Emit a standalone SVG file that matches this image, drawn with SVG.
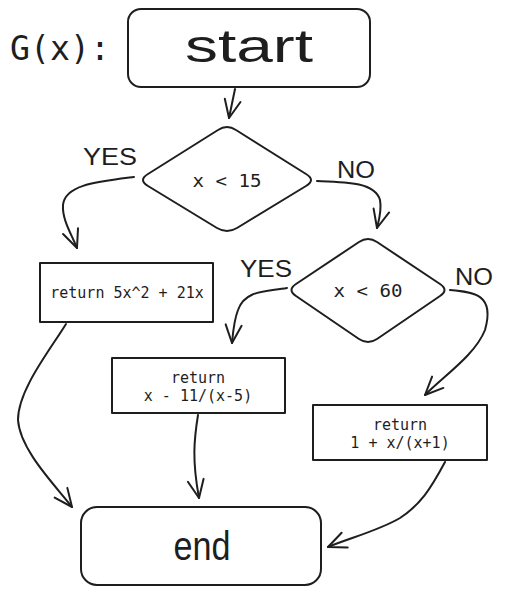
<svg xmlns="http://www.w3.org/2000/svg" width="509" height="594" viewBox="0 0 509 594">
<style>
.shape{fill:#ffffff;stroke:#1e1e1e;stroke-width:2;stroke-linejoin:round}
.conn{fill:none;stroke:#1e1e1e;stroke-width:2;stroke-linecap:round}
.mono{font-family:"DejaVu Sans Mono","Liberation Mono",monospace;fill:#1e1e1e;text-anchor:middle}
.hand{font-family:"Liberation Sans","DejaVu Sans",sans-serif;fill:#1e1e1e}
</style>
<defs>
<marker id="arr" markerUnits="userSpaceOnUse" markerWidth="30" markerHeight="30" refX="0" refY="0" viewBox="-20 -15 30 30" orient="auto" overflow="visible">
<path d="M -18,-8 L 0,0 L -18,8" fill="none" stroke="#1e1e1e" stroke-width="2" stroke-linecap="round" stroke-linejoin="round"/>
</marker>
</defs>
<rect width="509" height="594" fill="#ffffff"/>
<text class="mono" x="10" y="60" font-size="34" style="text-anchor:start" textLength="100" lengthAdjust="spacingAndGlyphs">G(x):</text>
<g id="connectors">
<path class="conn" marker-end="url(#arr)" d="M 235,89 L 229,118"/>
<path class="conn" marker-end="url(#arr)" d="M 134,177 C 95,182 65,185 63,205 C 62,220 72,235 77,248"/>
<path class="conn" marker-end="url(#arr)" d="M 317,181 C 345,182 375,182 380,200 C 382,210 379,220 377,228"/>
<path class="conn" marker-end="url(#arr)" d="M 287,288 C 265,292 245,290 238,310 C 234,320 233,332 232,343"/>
<path class="conn" marker-end="url(#arr)" d="M 450,290 C 475,292 495,295 485,330 C 475,355 445,375 425,395"/>
<path class="conn" marker-end="url(#arr)" d="M 66,324 C 50,350 18,390 18,420 C 20,450 55,485 72,507"/>
<path class="conn" marker-end="url(#arr)" d="M 198,415 C 194,440 192,460 199,498"/>
<path class="conn" marker-end="url(#arr)" d="M 445,462 C 430,490 420,505 400,518 C 380,530 350,538 328,547"/>
<text class="hand" x="83" y="165" font-size="24" textLength="54" lengthAdjust="spacingAndGlyphs">YES</text>
<text class="hand" x="337" y="178" font-size="24" textLength="38" lengthAdjust="spacingAndGlyphs">NO</text>
<text class="hand" x="240" y="277" font-size="24" textLength="52" lengthAdjust="spacingAndGlyphs">YES</text>
<text class="hand" x="455" y="285" font-size="24" textLength="38" lengthAdjust="spacingAndGlyphs">NO</text>
</g>
<g id="start">
<rect class="shape" x="128" y="9" width="242" height="78" rx="13"/>
<text class="hand" x="249" y="62" font-size="46" text-anchor="middle" textLength="128" lengthAdjust="spacingAndGlyphs">start</text>
</g>
<g id="cond1">
<path class="shape" d="M 236,130 L 306,174 Q 316,180 306,186 L 237,228 Q 227,234 217,228 L 148,186 Q 138,180 148,174 L 218,130 Q 227,124 236,130 Z"/>
<text class="mono" x="227" y="187" font-size="17" textLength="69" lengthAdjust="spacingAndGlyphs">x &lt; 15</text>
</g>
<g id="cond2">
<path class="shape" d="M 377,242 L 440,284 Q 449,290 440,296 L 377,339 Q 368,345 359,339 L 296,296 Q 287,290 296,284 L 359,242 Q 368,236 377,242 Z"/>
<text class="mono" x="368" y="297" font-size="17" textLength="69" lengthAdjust="spacingAndGlyphs">x &lt; 60</text>
</g>
<g id="ret1">
<rect class="shape" x="40" y="263" width="173" height="59"/>
<text class="mono" x="127" y="298" font-size="15">return 5x^2 + 21x</text>
</g>
<g id="ret2">
<rect class="shape" x="112" y="358" width="173" height="55"/>
<text class="mono" x="198" y="383" font-size="15">return</text>
<text class="mono" x="198" y="401" font-size="15">x - 11/(x-5)</text>
</g>
<g id="ret3">
<rect class="shape" x="313" y="405" width="174" height="55"/>
<text class="mono" x="400" y="430" font-size="15">return</text>
<text class="mono" x="400" y="448" font-size="15">1 + x/(x+1)</text>
</g>
<g id="end">
<rect class="shape" x="81" y="507" width="240" height="78" rx="16"/>
<text class="hand" x="202" y="560" font-size="40" text-anchor="middle" textLength="57" lengthAdjust="spacingAndGlyphs">end</text>
</g>
</svg>
